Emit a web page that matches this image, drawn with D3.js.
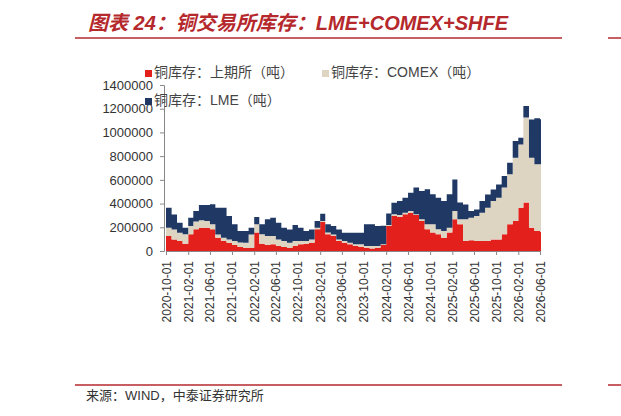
<!DOCTYPE html><html><head><meta charset="utf-8"><script src="https://cdn.jsdelivr.net/npm/d3@7"></script>
<style>body{margin:0;background:#fff}svg{display:block}</style></head><body><svg id="c" width="621" height="416"></svg>
<script>
const startMonth="2020-10";
const shfe=[126,98,84,62,141,183,197,197,183,112,84,70,51,34,28,28,155,62,51,56,42,34,28,42,56,62,70,183,245,141,126,84,70,56,42,34,28,22,28,51,211,295,287,309,323,304,253,183,155,141,112,155,267,225,84,90,84,84,84,98,98,141,225,253,365,408,197,169,163];
const comex=[70,84,70,79,70,65,62,56,42,28,28,28,34,37,42,112,70,79,76,70,56,51,42,42,28,22,28,14,8,14,14,14,14,14,14,22,14,20,14,6,8,14,17,14,14,6,14,42,70,42,56,42,70,42,183,191,211,239,281,323,351,394,422,534,534,717,590,562,568];
const lme=[169,126,84,56,70,90,129,135,169,225,253,197,141,98,98,56,62,84,141,155,141,112,112,135,112,84,84,56,62,70,70,84,70,84,98,98,183,183,169,155,98,98,118,126,155,225,239,295,253,267,253,281,267,141,126,56,56,98,112,98,112,98,98,141,56,98,323,388,380];
const yTicks=[0,200000,400000,600000,800000,1000000,1200000,1400000];
const xTickLabels=["2020-10-01","2021-02-01","2021-06-01","2021-10-01","2022-02-01","2022-06-01","2022-10-01","2023-02-01","2023-06-01","2023-10-01","2024-02-01","2024-06-01","2024-10-01","2025-02-01","2025-06-01","2025-10-01","2026-02-01","2026-06-01"];
const keys=["shfe","comex","lme"];
const names={shfe:"铜库存：上期所（吨）",comex:"铜库存：COMEX（吨）",lme:"铜库存：LME（吨）"};
const colors={shfe:"#e3201b",comex:"#ddd4c2",lme:"#1f3864"};
const p=d3.timeParse("%Y-%m");
const s0=p(startMonth);
const data=shfe.map((v,i)=>({date:d3.timeMonth.offset(s0,i),shfe:v*1000,comex:comex[i]*1000,lme:lme[i]*1000}));
data.push({...data[data.length-1],date:d3.timeMonth.offset(s0,data.length)});
const svg=d3.select("#c");
const F="'Liberation Sans',Arial,'Noto Sans CJK SC',sans-serif";
const x=d3.scaleTime().domain([p("2020-10"),p("2026-06")]).range([166,540]);
const y=d3.scaleLinear().domain([0,1400000]).range([251,85]);
const st=d3.stack().keys(keys)(data);
const area=d3.area().x(d=>x(d.data.date)).y0(d=>y(d[0])).y1(d=>y(d[1])).curve(d3.curveStepAfter);
svg.append("g").selectAll("path").data(st).join("path").attr("d",area).attr("fill",d=>colors[d.key]);
svg.append("rect").attr("x",541).attr("y",60).attr("width",40).attr("height",200).attr("fill","#fff");
const ya=svg.append("g").attr("transform","translate(164,0)").call(d3.axisLeft(y).tickValues(yTicks).tickSize(4).tickFormat(d3.format("d")));
ya.select(".domain").attr("stroke","#888");ya.selectAll("line").attr("stroke","#888");
ya.selectAll("text").attr("font-family",F).attr("font-size",13).attr("fill","#333").attr("dx",-4);
const xa=svg.append("g").attr("transform","translate(0,251)").call(d3.axisBottom(x).tickValues(xTickLabels.map(d3.timeParse("%Y-%m-%d"))).tickSize(4).tickSizeOuter(0).tickFormat(d3.timeFormat("%Y-%m-%d")));
xa.select(".domain").attr("stroke","#888");xa.selectAll("line").attr("stroke","#888");
xa.selectAll("text").attr("font-family",F).attr("font-size",12).attr("fill","#333").attr("transform","rotate(-90)").attr("text-anchor","end").attr("dx",-6).attr("dy",4).attr("y",0).attr("x",-4);
const leg=[["shfe",145,76],["comex",322,76],["lme",145,104]];
leg.forEach(([k,lx,ly])=>{svg.append("rect").attr("x",lx).attr("y",ly-6).attr("width",7).attr("height",7).attr("fill",colors[k]);
svg.append("text").attr("x",lx+9).attr("y",ly+1).attr("font-family",F).attr("font-size",14).attr("fill","#444").text(names[k]);});
svg.append("text").attr("x",88).attr("y",30).attr("font-family",F).attr("font-size",20).attr("font-weight","bold").attr("font-style","italic").attr("fill","#b5282c").text("图表 24：铜交易所库存：LME+COMEX+SHFE");
svg.append("line").attr("x1",75).attr("x2",562).attr("y1",38).attr("y2",38).attr("stroke","#b5282c").attr("stroke-width",1.5);
svg.append("line").attr("x1",75).attr("x2",562).attr("y1",385).attr("y2",385).attr("stroke","#b5282c").attr("stroke-width",1.5);
svg.append("text").attr("x",86).attr("y",400).attr("font-family",F).attr("font-size",13).attr("fill","#333").text("来源：WIND，中泰证券研究所");
svg.append("line").attr("x1",608).attr("x2",621).attr("y1",38).attr("y2",38).attr("stroke","#b5282c").attr("stroke-width",1.5);
svg.append("line").attr("x1",608).attr("x2",621).attr("y1",385).attr("y2",385).attr("stroke","#b5282c").attr("stroke-width",1.5);
</script></body></html>
